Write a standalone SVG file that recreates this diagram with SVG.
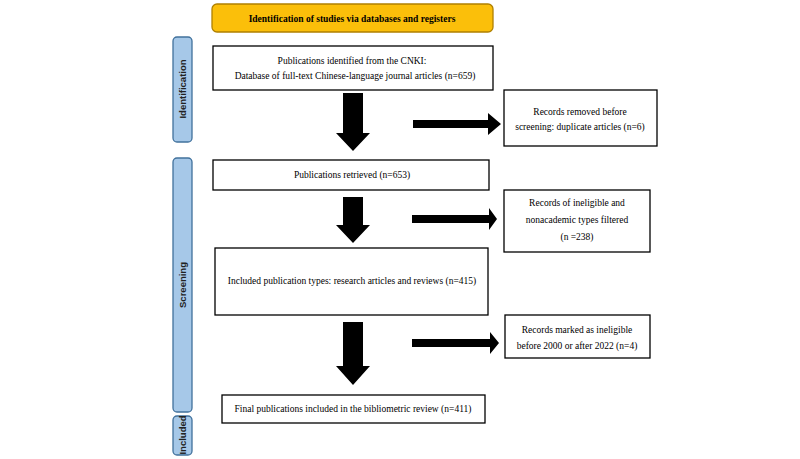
<svg xmlns="http://www.w3.org/2000/svg" width="800" height="459" viewBox="0 0 800 459">
<style>
.b{fill:#fff;stroke:#000;stroke-width:1.3}
.s{fill:#a6c8e8;stroke:#41719c;stroke-width:1.3}
.t{font-family:"Liberation Serif",serif;font-size:9.5px;fill:#000;text-anchor:middle}
.v{font-family:"Liberation Sans",sans-serif;font-size:9.5px;font-weight:bold;fill:#222;text-anchor:middle}
</style>
<rect width="800" height="459" fill="#fff"/>
<g id="title"><rect x="212" y="4" width="281" height="28" rx="5" fill="#fbbf0a" stroke="#b08000" stroke-width="1.3"/><text class="t" x="352" y="22" font-weight="bold">Identification of studies via databases and registers</text></g>
<g id="lab-identification"><rect class="s" x="173" y="37" width="19" height="105" rx="4"/><text class="v" transform="translate(186,89) rotate(-90)">Identification</text></g>
<g id="lab-screening"><rect class="s" x="173" y="158" width="19" height="254" rx="4"/><text class="v" transform="translate(186,285) rotate(-90)">Screening</text></g>
<g id="lab-included"><rect class="s" x="173" y="416" width="19" height="39" rx="4"/><text class="v" transform="translate(186,435) rotate(-90)">Included</text></g>
<g id="n1"><rect class="b" x="213" y="46" width="280" height="44"/><text class="t" x="352" y="64">Publications identified from the CNKI:</text><text class="t" x="355" y="79">Database of full-text Chinese-language journal articles (n=659)</text></g>
<g id="r1"><rect class="b" x="504" y="90" width="153" height="56"/><text class="t" x="580" y="115">Records removed before</text><text class="t" x="580" y="130">screening: duplicate articles (n=6)</text></g>
<g id="n2"><rect class="b" x="213" y="160" width="276" height="30"/><text class="t" x="352" y="178">Publications retrieved (n=653)</text></g>
<g id="r2"><rect class="b" x="504" y="190" width="146" height="62"/><text class="t" x="577" y="206">Records of ineligible and</text><text class="t" x="577" y="223">nonacademic types filtered</text><text class="t" x="577" y="240">(n =238)</text></g>
<g id="n3"><rect class="b" x="215" y="248" width="273" height="67"/><text class="t" x="352" y="284">Included publication types: research articles and reviews (n=415)</text></g>
<g id="r3"><rect class="b" x="505" y="315" width="145" height="43"/><text class="t" x="577" y="333">Records marked as ineligible</text><text class="t" x="577" y="349">before 2000 or after 2022 (n=4)</text></g>
<g id="n4"><rect class="b" x="222" y="395" width="263" height="28"/><text class="t" x="353" y="412">Final publications included in the bibliometric review (n=411)</text></g>
<g id="connectors" fill="#000">
<polygon points="343,93 363,93 363,133 370,133 353,151 336,133 343,133"/>
<polygon points="343,197 363,197 363,225 370,225 353,243 336,225 343,225"/>
<polygon points="343,322 363,322 363,366 370,366 353,385 336,366 343,366"/>
<polygon points="413,120 488,120 488,113 501,124 488,135 488,128 413,128"/>
<polygon points="412,215 489,215 489,208 497,219 489,230 489,223 412,223"/>
<polygon points="412,339 490,339 490,332 499,343 490,354 490,347 412,347"/>
</g>
</svg>
